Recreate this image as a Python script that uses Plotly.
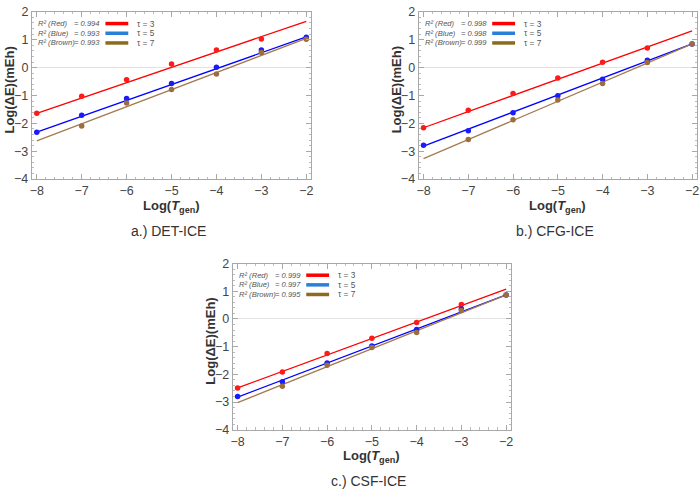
import plotly.graph_objects as go

# ---------------- data ----------------
x_pts = [-8, -7, -6, -5, -4, -3, -2]
fit_x = [-8, -2]

det_red = [-1.64, -1.03, -0.44, 0.13, 0.63, 1.03, None]
det_blue = [-2.32, -1.71, -1.11, -0.57, 0.01, 0.63, 1.09]
det_brown = [None, -2.10, -1.27, -0.79, -0.23, 0.54, 1.02]
det_fit_red = [-1.64, 1.66]
det_fit_blue = [-2.32, 1.10]
det_fit_brown = [-2.63, 1.05]
det_r2 = ["0.994", "0.993", "0.993"]

cfg_red = [-2.16, -1.53, -0.93, -0.37, 0.19, 0.70, None]
cfg_blue = [-2.79, -2.27, -1.62, -1.01, -0.42, 0.26, 0.85]
cfg_brown = [None, -2.58, -1.87, -1.16, -0.57, 0.18, 0.85]
cfg_fit_red = [-2.16, 1.32]
cfg_fit_blue = [-2.82, 0.85]
cfg_fit_brown = [-3.27, 0.85]
cfg_r2 = ["0.998", "0.998", "0.999"]

csf_red = [-2.49, -1.91, -1.25, -0.70, -0.13, 0.52, None]
csf_blue = [-2.80, -2.27, -1.59, -0.98, -0.38, 0.36, 0.87]
csf_brown = [None, -2.43, -1.67, -1.03, -0.49, 0.31, 0.87]
csf_fit_red = [-2.49, 1.08]
csf_fit_blue = [-2.82, 0.87]
csf_fit_brown = [-3.02, 0.87]
csf_r2 = ["0.999", "0.997", "0.995"]

series_names = ["Red", "Blue", "Brown"]
tau_labels = ["τ = 3", "τ = 5", "τ = 7"]
captions = ["a.) DET-ICE", "b.) CFG-ICE", "c.) CSF-ICE"]
x_ticks = [-8, -7, -6, -5, -4, -3, -2]
y_ticks = [-4, -3, -2, -1, 0, 1, 2]

# ---------------- styling ----------------
W, H = 700, 498
FONT = "Liberation Sans, Arial, sans-serif"
line_colors = ["#FF0000", "#0000FF", "#A47B50"]
marker_colors = ["#FF1A1A", "#1A1AFF", "#9C6E3E"]
swatch_colors = ["#FF0000", "#2A7FD6", "#8C6A1E"]

# panel frames in window pixels: (left, right, top, bottom)
panels = [
    (30, 311, 5, 177),
    (419, 699, 5, 177),
    (232, 512, 264, 435),
]

def px2x(px):
    return px / W

def px2y(py):
    return 1 - py / H

fig = go.Figure()

panel_data = [
    (det_red, det_blue, det_brown, det_fit_red, det_fit_blue, det_fit_brown, det_r2),
    (cfg_red, cfg_blue, cfg_brown, cfg_fit_red, cfg_fit_blue, cfg_fit_brown, cfg_r2),
    (csf_red, csf_blue, csf_brown, csf_fit_red, csf_fit_blue, csf_fit_brown, csf_r2),
]

annotations = []
shapes = []
layout_axes = {}

for i, (pd_, (l, r, t, b)) in enumerate(zip(panel_data, panels)):
    n = "" if i == 0 else str(i + 1)
    xa, ya = "x" + n, "y" + n
    pts = pd_[0:3]
    fits = pd_[3:6]
    r2 = pd_[6]
    for k in range(3):
        fig.add_trace(go.Scatter(x=fit_x, y=fits[k], mode="lines",
                                 line=dict(color=line_colors[k], width=1.3),
                                 xaxis=xa, yaxis=ya, showlegend=False, hoverinfo="skip"))
    for k in range(3):
        fig.add_trace(go.Scatter(x=x_pts, y=pts[k], mode="markers",
                                 marker=dict(color=marker_colors[k], size=5.5),
                                 xaxis=xa, yaxis=ya, showlegend=False))

    axis_common = dict(
        showline=True, linecolor="#A8A8A8", linewidth=1, mirror="ticks",
        ticks="inside", ticklen=5, tickcolor="#A8A8A8", tickwidth=1,
        minor=dict(ticks="inside", ticklen=2.5, tickcolor="#BBBBBB", dtick=0.2),
        showgrid=False,
        tickfont=dict(family=FONT, size=12.5, color="#444444"),
    )
    layout_axes["xaxis" + n] = dict(
        axis_common, domain=[px2x(l), px2x(r)], range=[-8.11, -1.89],
        tickvals=x_ticks, ticktext=["−" + str(abs(v)) for v in x_ticks],
        anchor=ya, zeroline=False,
    )
    layout_axes["yaxis" + n] = dict(
        axis_common, domain=[px2y(b), px2y(t)], range=[-4, 2.0],
        tickvals=y_ticks, ticktext=[("−" + str(abs(v))) if v < 0 else str(v) for v in y_ticks],
        anchor=xa, zeroline=True, zerolinecolor="#E2E2E2", zerolinewidth=1,
    )

    # legend block
    xd, yd = xa + " domain", ya + " domain"
    width = r - l
    rows = [0.93, 0.872, 0.814]
    for k in range(3):
        annotations.append(dict(xref=xd, yref=yd, x=4 / width, y=rows[k], xanchor="left", yanchor="middle",
                                text="<i>R² (%s)</i>" % series_names[k], showarrow=False,
                                font=dict(family=FONT, size=7.6, color="#555555")))
        annotations.append(dict(xref=xd, yref=yd, x=71 / width, y=rows[k], xanchor="right", yanchor="middle",
                                text="<i>= %s</i>" % r2[k], showarrow=False,
                                font=dict(family=FONT, size=7.6, color="#555555")))
        shapes.append(dict(type="line", xref=xd, yref=yd, x0=74 / width, x1=97 / width, y0=rows[k], y1=rows[k],
                           line=dict(color=swatch_colors[k], width=3.5)))
        annotations.append(dict(xref=xd, yref=yd, x=104 / width, y=rows[k], xanchor="left", yanchor="middle",
                                text=tau_labels[k], showarrow=False,
                                font=dict(family=FONT, size=8.3, color="#555555")))

    # axis titles and caption
    cx = (l + r) / 2
    annotations.append(dict(xref="paper", yref="paper", x=px2x(cx), y=px2y(b + 28),
                            text="<b>Log(<i>T</i><sub>gen</sub>)</b>", showarrow=False,
                            xanchor="center", yanchor="middle",
                            font=dict(family=FONT, size=13, color="#333333")))
    annotations.append(dict(xref="paper", yref="paper", x=px2x(l - 22), y=px2y((t + b) / 2 - 6),
                            text="<b>Log(ΔE)(mEh)</b>", showarrow=False, textangle=-90,
                            xanchor="center", yanchor="middle",
                            font=dict(family=FONT, size=13, color="#333333")))
    annotations.append(dict(xref="paper", yref="paper", x=px2x(cx - 3), y=px2y(b + 53),
                            text=captions[i], showarrow=False,
                            xanchor="center", yanchor="middle",
                            font=dict(family=FONT, size=14, color="#333333")))

fig.update_layout(
    width=W, height=H,
    margin=dict(l=0, r=0, t=0, b=0),
    paper_bgcolor="white", plot_bgcolor="white",
    showlegend=False,
    annotations=annotations,
    shapes=shapes,
    **layout_axes,
)

fig.write_html("out.html",
               config={"displayModeBar": False},
               post_script="document.body.style.margin='0';document.body.style.overflow='hidden';")
